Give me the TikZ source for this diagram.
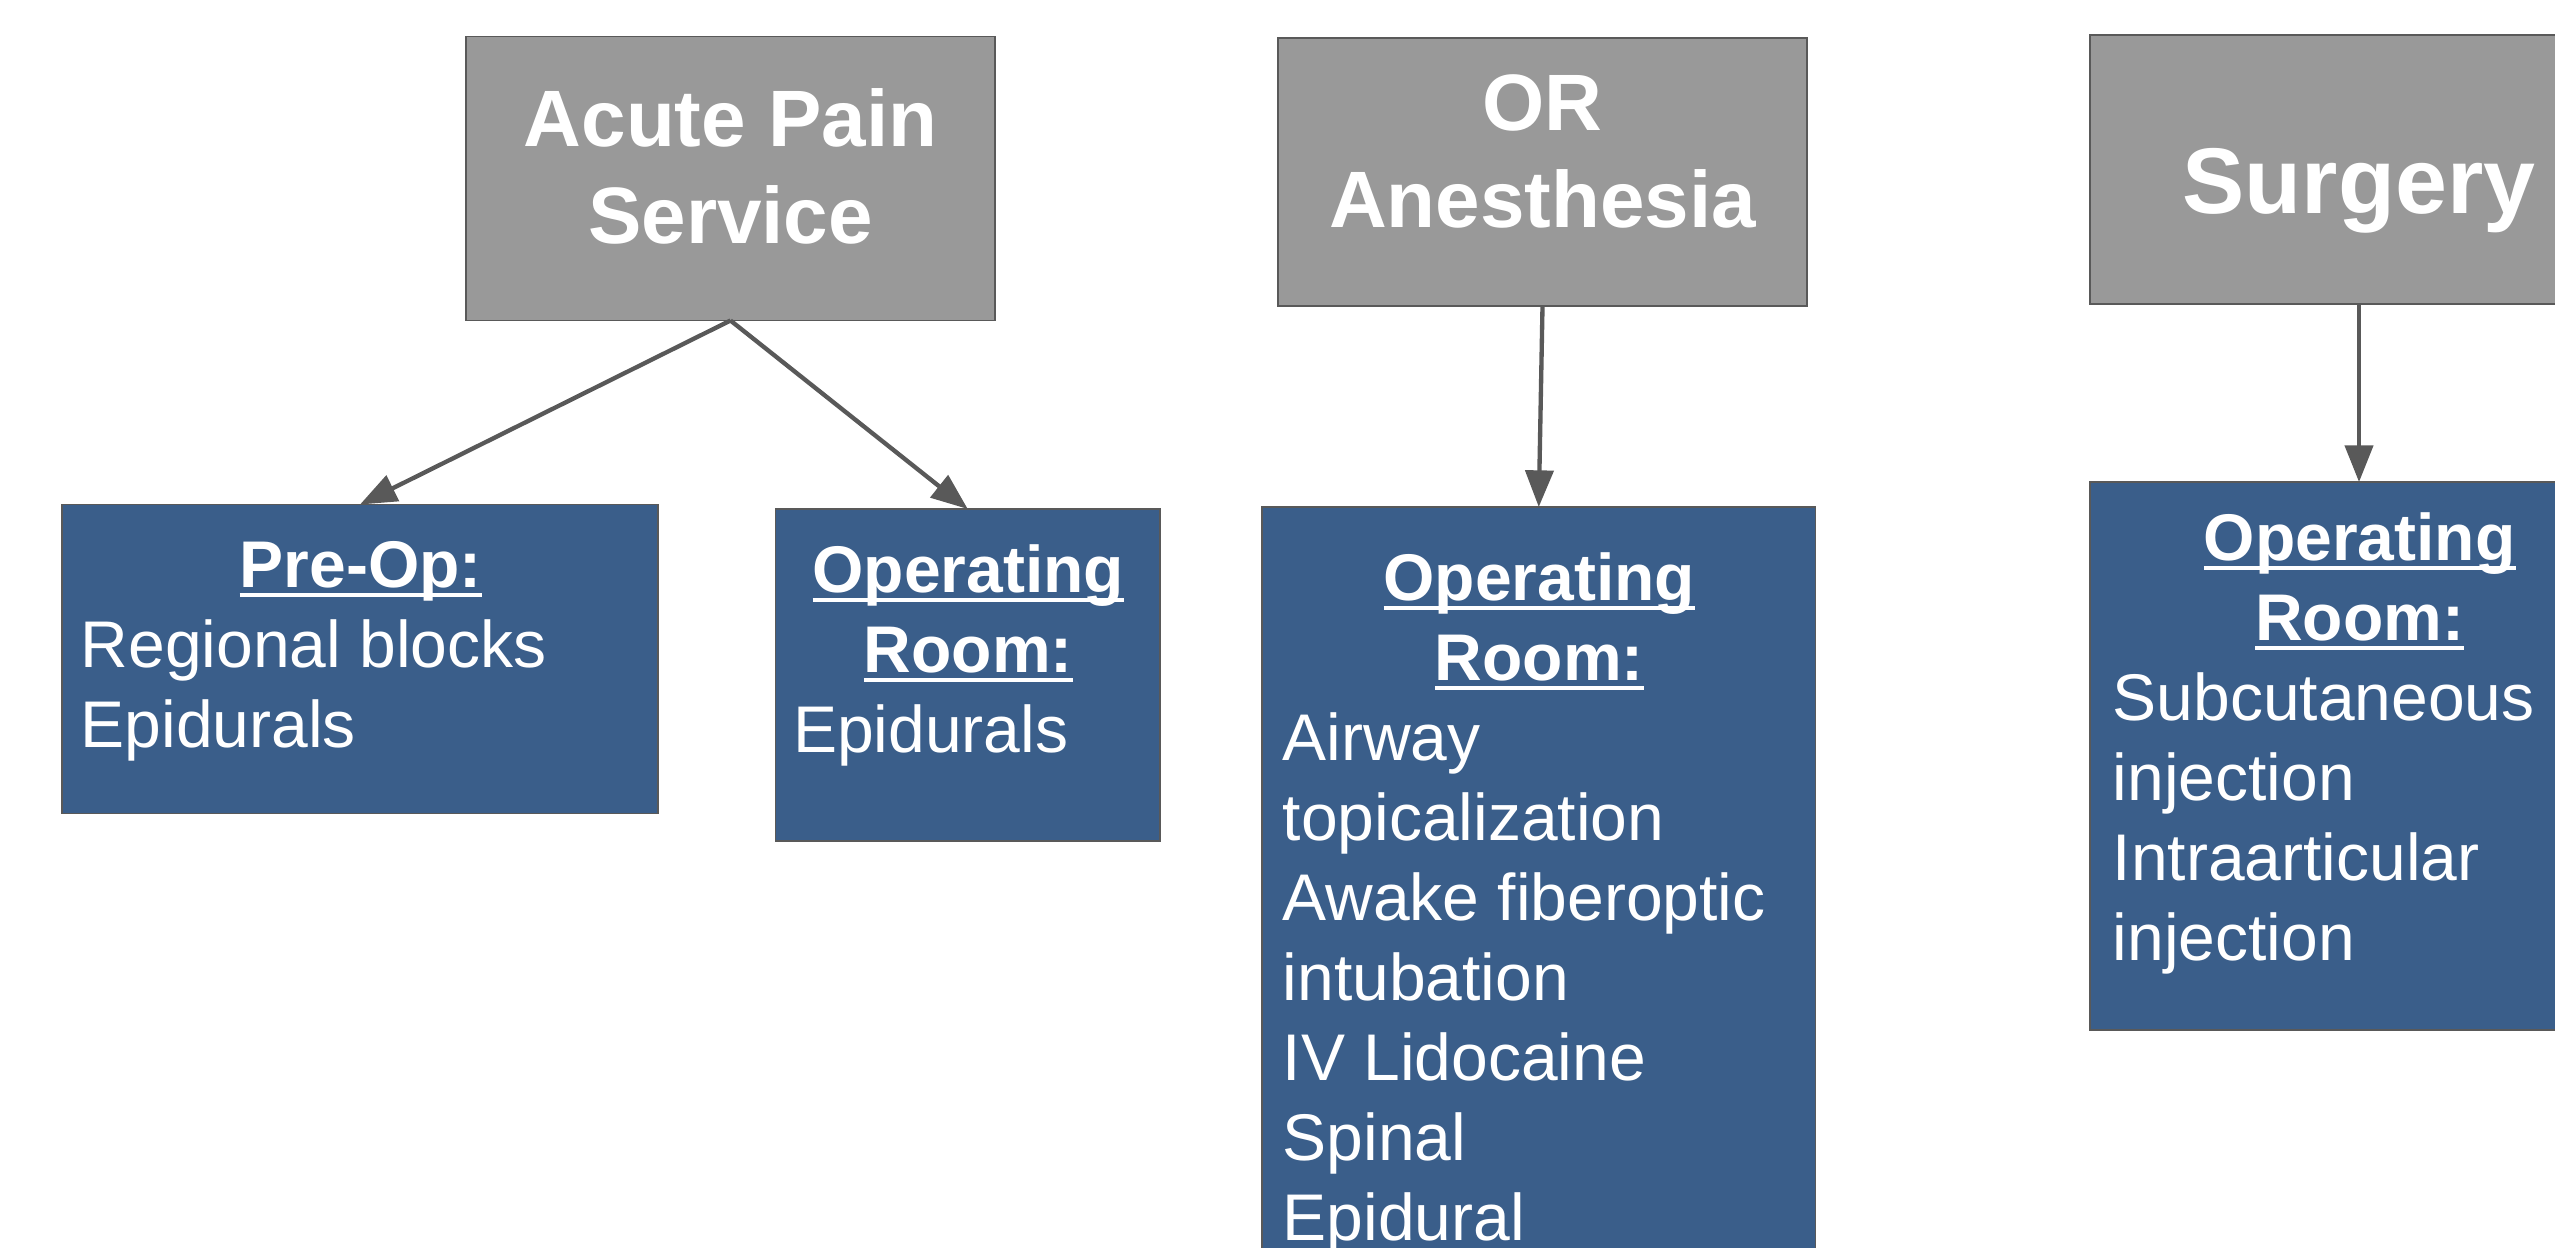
\documentclass[tikz,border=0pt]{standalone}
\usepackage{fontspec}
\setmainfont{Liberation Sans}
\usetikzlibrary{arrows.meta}
\definecolor{boxgray}{HTML}{999999}
\definecolor{boxblue}{HTML}{3A5E8A}
\definecolor{edgegray}{HTML}{595959}
\newlength\ulwd
\newcommand\ulbf[1]{\leavevmode\settowidth{\ulwd}{\bfseries #1}\rlap{\rule[-0.145em]{\ulwd}{0.05em}}{\bfseries #1}}
\tikzset{
  graybox/.style={draw=edgegray, line width=0.5pt, fill=boxgray, anchor=north west, inner sep=0pt, outer sep=0pt},
  bluebox/.style={draw=edgegray, line width=0.5pt, fill=boxblue, anchor=north west, inner sep=0pt, outer sep=0pt},
  titletext/.style={text=white, font=\bfseries\fontsize{24pt}{29.1pt}\selectfont, anchor=base, inner sep=0pt},
  bodytext/.style={text=white, font=\fontsize{19.8pt}{24pt}\selectfont, anchor=base west, inner sep=0pt},
  arr/.style={draw=edgegray, line width=1.3pt, -{Triangle[length=11pt,width=8.4pt]}}
}
\begin{document}
\begin{tikzpicture}[x=0.3pt,y=-0.3pt]
\useasboundingbox (0,0) rectangle (2555,1247);
% top (gray) boxes
\node[graybox, minimum width=158.7pt, minimum height=85.2pt] (aps) at (466,36.5) {};
\node[graybox, minimum width=158.7pt, minimum height=80.4pt] (ora) at (1278,38) {};
\node[graybox, minimum width=161.4pt, minimum height=80.7pt] (surg) at (2090,35) {};
% lower (blue) boxes
\node[bluebox, minimum width=178.8pt, minimum height=92.7pt] (preop) at (62,504.5) {};
\node[bluebox, minimum width=115.35pt, minimum height=99.6pt] (orone) at (775.5,509) {};
\node[bluebox, minimum width=166.05pt, minimum height=237.9pt] (orab) at (1262,507) {};
\node[bluebox, minimum width=161.4pt, minimum height=164.4pt] (surgb) at (2090,482) {};
% titles
\node[titletext] (apsT) at (730.5,146) {\parbox[t]{150pt}{\centering Acute Pain\\Service}};
\node[titletext] (oraT) at (1542.5,130) {\parbox[t]{150pt}{\centering OR\\Anesthesia}};
\node[titletext, font=\bfseries\fontsize{28pt}{34pt}\selectfont] (surgT) at (2359,213) {Surgery};
% box texts
\node[bodytext] (preT) at (80,587) {\parbox[t]{168pt}{\centering\ulbf{Pre-Op:}\par\raggedright Regional blocks\\Epidurals}};
\node[bodytext] (oroneT) at (792.5,592) {\parbox[t]{105.15pt}{\centering\ulbf{Operating}\\\ulbf{Room:}\par\raggedright Epidurals}};
\node[bodytext] (orabT) at (1282,600) {\parbox[t]{154.05pt}{\centering\ulbf{Operating}\\\ulbf{Room:}\par\raggedright Airway\\topicalization\\Awake fiberoptic\\intubation\\IV Lidocaine\\Spinal\\Epidural}};
\node[bodytext] (surgbT) at (2112,560) {\parbox[t]{148.2pt}{\centering\ulbf{Operating}\\\ulbf{Room:}\par\raggedright Subcutaneous\\injection\\Intraarticular\\injection}};
% connectors
\draw[arr] (aps.south) -- (preop.north);
\draw[arr] (aps.south) -- (orone.north);
\draw[arr] (ora.south) -- (orab.north);
\draw[arr] (surg.south) -- (surgb.north);
\end{tikzpicture}
\end{document}
